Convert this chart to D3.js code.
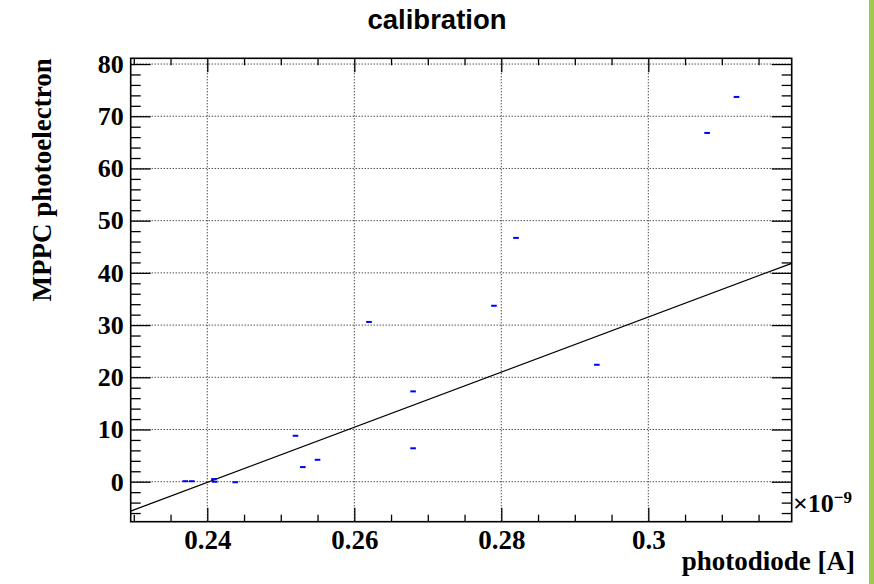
<!DOCTYPE html>
<html>
<head>
<meta charset="utf-8">
<script src="https://cdn.jsdelivr.net/npm/d3@7"></script>
<style>
  html, body { margin: 0; padding: 0; background: #ffffff; }
  svg { display: block; }
</style>
</head>
<body>
<svg id="chart" width="874" height="584"></svg>
<script>
// Photodiode current (units of 1e-9 A) and measured MPPC photoelectrons
const photodiode    = [0.2370, 0.2379, 0.2409, 0.2410, 0.2438, 0.2520, 0.2530, 0.2550,
                       0.2620, 0.2680, 0.2680, 0.2790, 0.2820, 0.2930, 0.3080, 0.3120];
const photoelectron = [0.1, 0.1, 0.5, 0.0, -0.1, 8.8, 2.8, 4.2,
                       30.6, 17.3, 6.4, 33.7, 46.7, 22.4, 66.8, 73.7];

// Linear fit result: photoelectron = fitSlope * photodiode + fitIntercept
const fitSlope = 527.8;
const fitIntercept = -126.8;

// Axis ranges and ticks
const xRange = [0.22958, 0.31951];
const yRange = [-7.66, 81.1];
const xMajorTicks = [0.24, 0.26, 0.28, 0.30];
const xTickLabels = ["0.24", "0.26", "0.28", "0.3"];
const xMinorTicks = [0.230, 0.235, 0.245, 0.250, 0.255, 0.265, 0.270, 0.275,
                     0.285, 0.290, 0.295, 0.305, 0.310, 0.315];
const yMajorTicks = [0, 10, 20, 30, 40, 50, 60, 70, 80];
const yMinorTicks = [-6, -4, -2, 2, 4, 6, 8, 12, 14, 16, 18, 22, 24, 26, 28, 32, 34, 36, 38,
                     42, 44, 46, 48, 52, 54, 56, 58, 62, 64, 66, 68, 72, 74, 76, 78];

const chartTitle = "calibration";
const xTitle = "photodiode [A]";
const yTitle = "MPPC photoelectron";
const xExponent = "\u22129";

// Frame geometry
const frame = { left: 130.7, right: 791.7, top: 58.3, bottom: 521.7 };
const W = frame.right - frame.left;
const H = frame.bottom - frame.top;

const svg = d3.select("#chart");
const serif = "'Liberation Serif', 'Times New Roman', serif";
const sans = "'Liberation Sans', Arial, Helvetica, sans-serif";

// Right-hand accent strip
svg.append("rect")
  .attr("x", 869).attr("y", 0).attr("width", 5).attr("height", 584)
  .attr("fill", "#9cc94e");

const x = d3.scaleLinear().domain(xRange).range([0, W]);
const y = d3.scaleLinear().domain(yRange).range([H, 0]);

const g = svg.append("g").attr("transform", `translate(${frame.left},${frame.top})`);

svg.append("defs").append("clipPath").attr("id", "plotClip")
  .append("rect").attr("width", W).attr("height", H);

// Dotted grid at major ticks
const grid = g.append("g").attr("stroke", "#000").attr("stroke-width", 1)
  .attr("stroke-dasharray", "1,2").attr("fill", "none");
grid.selectAll(".gx").data(xMajorTicks).join("line")
  .attr("x1", d => x(d)).attr("x2", d => x(d))
  .attr("y1", 0).attr("y2", H);
grid.selectAll(".gy").data(yMajorTicks).join("line")
  .attr("x1", 0).attr("x2", W)
  .attr("y1", d => y(d)).attr("y2", d => y(d));

// Axes: minor and major ticks pointing inward on all four sides
function styleAxis(sel) {
  sel.select(".domain").remove();
  sel.selectAll(".tick line").attr("stroke", "#000").attr("stroke-width", 1.3);
}
g.append("g").attr("transform", `translate(0,${H})`)
  .call(d3.axisBottom(x).tickValues(xMinorTicks).tickSize(-7).tickFormat(""))
  .call(styleAxis);
g.append("g").attr("transform", `translate(0,${H})`)
  .call(d3.axisBottom(x).tickValues(xMajorTicks).tickSize(-14).tickPadding(8)
    .tickFormat((d, i) => xTickLabels[i]))
  .call(styleAxis)
  .call(s => s.selectAll("text").attr("font-family", serif).attr("font-weight", "bold")
    .attr("font-size", 27).attr("fill", "#000"));
g.append("g")
  .call(d3.axisTop(x).tickValues(xMinorTicks).tickSize(-7).tickFormat(""))
  .call(styleAxis);
g.append("g")
  .call(d3.axisTop(x).tickValues(xMajorTicks).tickSize(-14).tickFormat(""))
  .call(styleAxis);

g.append("g")
  .call(d3.axisLeft(y).tickValues(yMinorTicks).tickSize(-10).tickFormat(""))
  .call(styleAxis);
g.append("g")
  .call(d3.axisLeft(y).tickValues(yMajorTicks).tickSize(-20).tickPadding(7)
    .tickFormat(d3.format("d")))
  .call(styleAxis)
  .call(s => s.selectAll("text").attr("font-family", serif).attr("font-weight", "bold")
    .attr("font-size", 26).attr("fill", "#000"));
g.append("g").attr("transform", `translate(${W},0)`)
  .call(d3.axisRight(y).tickValues(yMinorTicks).tickSize(-10).tickFormat(""))
  .call(styleAxis);
g.append("g").attr("transform", `translate(${W},0)`)
  .call(d3.axisRight(y).tickValues(yMajorTicks).tickSize(-20).tickFormat(""))
  .call(styleAxis);

// Fit line across the full x range
const fitLine = d3.line().x(d => x(d)).y(d => y(fitSlope * d + fitIntercept));
g.append("path").datum(xRange)
  .attr("clip-path", "url(#plotClip)")
  .attr("d", fitLine)
  .attr("fill", "none").attr("stroke", "#000").attr("stroke-width", 1.3);

// Measured points as short blue horizontal marks
const points = photodiode.map((v, i) => ({ x: v, y: photoelectron[i] }));
g.append("g").attr("clip-path", "url(#plotClip)")
  .selectAll("rect").data(points).join("rect")
  .attr("x", d => x(d.x) - 2.8).attr("y", d => y(d.y) - 1)
  .attr("width", 5.6).attr("height", 2)
  .attr("fill", "#0000ff");

// Frame
g.append("rect").attr("width", W).attr("height", H)
  .attr("fill", "none").attr("stroke", "#000").attr("stroke-width", 1.6);

// Title
svg.append("text")
  .attr("x", 437).attr("y", 28.5).attr("text-anchor", "middle")
  .attr("font-family", sans).attr("font-weight", "bold").attr("font-size", 27.5)
  .attr("fill", "#000").text(chartTitle);

// Axis titles
svg.append("text")
  .attr("x", 855).attr("y", 570).attr("text-anchor", "end")
  .attr("font-family", serif).attr("font-weight", "bold").attr("font-size", 27)
  .attr("fill", "#000").text(xTitle);
svg.append("text")
  .attr("transform", `translate(51,${frame.top}) rotate(-90)`)
  .attr("text-anchor", "end")
  .attr("font-family", serif).attr("font-weight", "bold").attr("font-size", 27)
  .attr("fill", "#000").text(yTitle);

// Axis exponent
const expo = svg.append("text")
  .attr("x", 793).attr("y", 512)
  .attr("font-family", serif).attr("font-weight", "bold").attr("font-size", 26)
  .attr("fill", "#000");
expo.append("tspan").text("\u00d710");
expo.append("tspan").attr("dy", -9).attr("font-size", 17).text(xExponent);
</script>
</body>
</html>
